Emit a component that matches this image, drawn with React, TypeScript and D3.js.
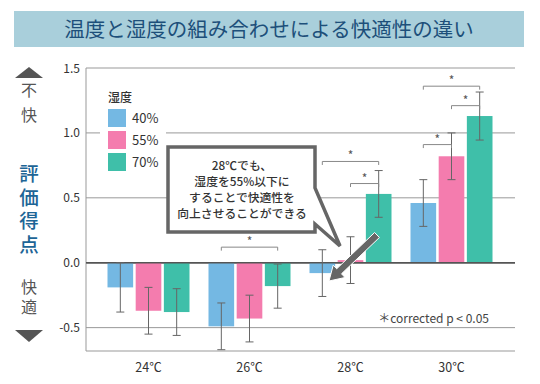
import React from 'react';
import * as d3 from 'd3';

const categories = ['24℃', '26℃', '28℃', '30℃'];
const humidities = ['40%', '55%', '70%'];
const means40 = [-0.19, -0.49, -0.08, 0.46];
const means55 = [-0.37, -0.43, 0.02, 0.82];
const means70 = [-0.38, -0.18, 0.53, 1.13];
const err40 = [0.19, 0.18, 0.18, 0.18];
const err55 = [0.18, 0.18, 0.18, 0.18];
const err70 = [0.18, 0.17, 0.18, 0.185];
const yTicks = [-0.5, 0, 0.5, 1.0, 1.5];
const colors = ['#74b8e3', '#f47cae', '#3fbfa9'];

// significance brackets: category, from-humidity, to-humidity, height (score units)
const brackets: [string, string, string, number][] = [
  ['26℃', '40%', '70%', 0.12],
  ['28℃', '40%', '70%', 0.78],
  ['28℃', '55%', '70%', 0.61],
  ['30℃', '40%', '55%', 0.91],
  ['30℃', '55%', '70%', 1.21],
  ['30℃', '40%', '70%', 1.36],
];

const calloutLines = ['28℃でも、', '湿度を55%以下に', 'することで快適性を', '向上させることができる'];

const FONT = '"Noto Sans CJK JP", "Noto Sans", sans-serif';

export default function App() {
  const width = 540;
  const height = 384;
  const left = 86, right = 515, top = 68, bottom = 351;

  const y = d3.scaleLinear().domain([-0.68, 1.5]).range([bottom, top]);
  const x0 = d3.scaleBand<string>().domain(categories).range([98, 502]);
  const x1 = d3.scaleBand<string>().domain(humidities).range([0, 82]).paddingInner(0.09);
  const groupOff = (x0.bandwidth() - 82) / 2;

  const means = [means40, means55, means70];
  const errs = [err40, err55, err70];
  const barX = (c: string, h: string) => (x0(c) ?? 0) + groupOff + (x1(h) ?? 0);
  const barCx = (c: string, h: string) => barX(c, h) + x1.bandwidth() / 2;

  // arrow geometry
  const ax1 = 377, ay1 = 235, ax2 = 329, ay2 = 281;
  const ang = Math.atan2(ay2 - ay1, ax2 - ax1);
  const len = Math.hypot(ax2 - ax1, ay2 - ay1);
  const hw = 3.5, headW = 8.5, headL = 14;
  const arrowPts: [number, number][] = [
    [0, -hw], [len - headL, -hw], [len - headL, -headW], [len, 0],
    [len - headL, headW], [len - headL, hw], [0, hw],
  ];
  const arrowPath = arrowPts
    .map(([u, v]) => [ax1 + u * Math.cos(ang) - v * Math.sin(ang), ay1 + u * Math.sin(ang) + v * Math.cos(ang)])
    .map(([px, py], i) => `${i === 0 ? 'M' : 'L'}${px.toFixed(1)},${py.toFixed(1)}`)
    .join(' ') + ' Z';

  const vertical = { writingMode: 'vertical-rl' } as React.CSSProperties;

  return (
    <svg width={width} height={height} style={{ position: 'absolute', left: 0, top: 0, background: '#fff' }} fontFamily={FONT}>
      {/* title */}
      <rect x={14} y={11} width={510} height={36} fill="#a9cfdb" />
      <text x={269} y={36.5} textAnchor="middle" fontSize={20.5} fontWeight={400} fill="#1d4f7a">
        温度と湿度の組み合わせによる快適性の違い
      </text>

      {/* grid and frame */}
      {yTicks.map(t => (
        <line key={t} x1={left} x2={right} y1={y(t)} y2={y(t)}
          stroke={t === 0 ? '#555' : '#999'} strokeWidth={t === 0 ? 1.6 : 1} />
      ))}
      <line x1={left} x2={right} y1={bottom} y2={bottom} stroke="#999" />
      <line x1={left} x2={left} y1={top} y2={bottom} stroke="#999" />
      {yTicks.map(t => (
        <text key={t} x={80} y={y(t) + 4.5} textAnchor="end" fontSize={12} fill="#333">
          {t.toFixed(1)}
        </text>
      ))}

      {/* legend */}
      <rect x={100} y={84} width={66} height={92} fill="#fff" />
      <text x={108} y={102} fontSize={12} fontWeight={500} fill="#333">湿度</text>
      {humidities.map((h, i) => (
        <g key={h} transform={`translate(108, ${109 + i * 22})`}>
          <rect width={18} height={18} fill={colors[i]} />
          <text x={24} y={14} fontSize={13} fill="#333">{h}</text>
        </g>
      ))}

      {/* bars */}
      {humidities.map((h, i) =>
        categories.map((c, j) => {
          const v = means[i][j];
          return (
            <rect key={h + c} x={barX(c, h)} width={x1.bandwidth()}
              y={Math.min(y(v), y(0))} height={Math.abs(y(v) - y(0))} fill={colors[i]} />
          );
        })
      )}
      {/* zero line over bars */}
      <line x1={left} x2={right} y1={y(0)} y2={y(0)} stroke="#555" strokeWidth={1.6} />

      {/* error bars */}
      {humidities.map((h, i) =>
        categories.map((c, j) => {
          const cx = barCx(c, h);
          const hi = y(means[i][j] + errs[i][j]);
          const lo = y(means[i][j] - errs[i][j]);
          return (
            <g key={h + c} stroke="#666" strokeWidth={1}>
              <line x1={cx} x2={cx} y1={hi} y2={lo} />
              <line x1={cx - 4} x2={cx + 4} y1={hi} y2={hi} />
              <line x1={cx - 4} x2={cx + 4} y1={lo} y2={lo} />
            </g>
          );
        })
      )}

      {/* significance brackets */}
      {brackets.map(([c, a, b, v], k) => {
        const xa = barCx(c, a), xb = barCx(c, b), yy = y(v);
        return (
          <g key={k}>
            <path d={`M${xa},${yy + 3.5} V${yy} H${xb} V${yy + 3.5}`} fill="none" stroke="#888" strokeWidth={1} />
            <text x={(xa + xb) / 2} y={yy - 1} textAnchor="middle" fontSize={12} fill="#555">*</text>
          </g>
        );
      })}

      {/* callout */}
      <path d="M168,147 H315 V188 L340,246 L315,224 V232 H168 Z" fill="#fff" stroke="#666" strokeWidth={3.5} strokeLinejoin="miter" />
      {calloutLines.map((t, i) => (
        <text key={i} x={242} y={169.5 + i * 16.3} textAnchor="middle" fontSize={11.8} fontWeight={500} fill="#333">{t}</text>
      ))}
      <path d={arrowPath} fill="#666" stroke="#fff" strokeWidth={1} />

      {/* x labels */}
      {categories.map(c => (
        <text key={c} x={(x0(c) ?? 0) + x0.bandwidth() / 2} y={372} textAnchor="middle" fontSize={12.5} fill="#333">{c}</text>
      ))}

      {/* footnote */}
      <text x={489} y={323} textAnchor="end" fontSize={12} fill="#444">＊corrected p &lt; 0.05</text>

      {/* left axis description */}
      <polygon points="15,78 43,78 29,67" fill="#555" />
      <text x={29} y={82} style={vertical} fontSize={16} letterSpacing={9} fill="#555">不快</text>
      <text x={29} y={164} style={vertical} fontSize={19.5} letterSpacing={4} fontWeight={500} fill="#1d6596">評価得点</text>
      <text x={29} y={279} style={vertical} fontSize={16} letterSpacing={4} fill="#555">快適</text>
      <polygon points="15,330 43,330 29,342" fill="#555" />
    </svg>
  );
}
